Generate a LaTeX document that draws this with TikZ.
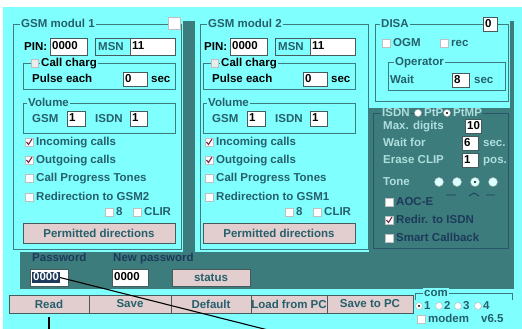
\documentclass[tikz,border=0pt]{standalone}
\usepackage{fontspec}
\setmainfont{Liberation Sans}
\usetikzlibrary{positioning,calc}
\definecolor{wcyan}{RGB}{128,255,255}
\definecolor{wdark}{RGB}{60,124,124}
\definecolor{wtext}{RGB}{38,96,108}
\definecolor{wlite}{RGB}{175,222,222}
\definecolor{wnavy}{RGB}{30,58,90}
\definecolor{btnface}{RGB}{226,206,206}
\definecolor{btnedge}{RGB}{70,92,92}
\definecolor{chkred}{RGB}{120,40,70}
\newcommand\uifont{\fontsize{11.5}{13}\selectfont\bfseries}
\tikzset{
  lbl/.style={anchor=west,inner sep=0pt,text height=8.5pt,text depth=2pt,font=\uifont,text=wtext},
  gtitle/.style={lbl,fill=wcyan,inner xsep=1pt},
  ititle/.style={lbl,fill=wdark,text=wlite,inner xsep=1pt},
  ilbl/.style={lbl,text=wlite},
  gframe/.style={draw=wdark,line width=0.9pt},
  iframe/.style={draw=wnavy!60!wdark,line width=0.9pt},
  edit/.style={draw=btnedge,fill=white,line width=0.7pt},
  etext/.style={lbl,text=black},
  btn/.style={draw=btnedge,fill=btnface,line width=0.9pt,inner sep=0pt,
    minimum height=18pt,font=\uifont,text=wtext},
  cbox/.style={draw=black!25,fill=white,line width=0.5pt},
  chk/.style={draw=chkred,line width=1.1pt},
  radio/.style={circle,draw=black!30,fill=white,minimum size=7pt,inner sep=0pt},
  callout/.style={draw=black,line width=1.1pt},
}
% edit field: name, x1, y1, x2, y2, text
\newcommand\ebox[6]{%
  \draw[edit] (#2,#3) rectangle (#4,#5);
  \node[etext] (#1) at ({#2+2},{(#3+#5)/2}) {#6};}
% check box: [label style] name, x, y, label
\newcommand\cbx[5][]{%
  \draw[cbox] (#3,{#4-4}) rectangle ({#3+8},{#4+4});
  \node[lbl,#1] (#2) at ({#3+11},#4) {#5};}
\newcommand\ckmark[2]{\draw[chk] ({#1+1.5},#2) -- ({#1+3.5},{#2+2.5}) -- ({#1+7},{#2-3});}
% one GSM module: x offset, number, redirection target, frame left, frame right
\newcommand\gsmmod[5]{%
  \begin{scope}[xshift=#1pt]
    \draw[gframe] (#4,24) rectangle (#5,249);
    \node[gtitle] (title#2) at ({#4+7},24) {GSM modul #2};
    \node[lbl,text=black] (pinl#2) at (24,47) {PIN:};
    \ebox{pin#2}{50}{38}{87}{55}{0000}
    \draw[edit,fill=wcyan] (95,38) rectangle (130,55);
    \node[lbl] (msnl#2) at (98,47) {MSN};
    \ebox{msn#2}{130}{38}{175}{55}{11}
    % call charge
    \draw[gframe] (23,63) rectangle (175,89);
    \draw[cbox,fill=black!8] (31,59) rectangle (38,67);
    \node[gtitle,text=black] (chg#2) at (40,63) {Call charg};
    \node[lbl,text=black] (pulse#2) at (32,79) {Pulse each};
    \ebox{pulsen#2}{123}{72}{147}{86}{0}
    \node[lbl,text=black] (pulses#2) at (151,79) {sec};
    % volume
    \draw[gframe] (23,103) rectangle (175,133);
    \node[gtitle] (vol#2) at (27,103) {Volume};
    \node[lbl] (volg#2) at (32,119) {GSM};
    \ebox{volgn#2}{67}{111}{85}{126}{1}
    \node[lbl] (voli#2) at (95,119) {ISDN};
    \ebox{volin#2}{130}{111}{147}{126}{1}
    % options
    \cbx{inc#2}{25}{142}{Incoming calls}\ckmark{25}{142}
    \cbx{out#2}{25}{160}{Outgoing calls}\ckmark{25}{160}
    \cbx{cpt#2}{25}{178}{Call Progress Tones}
    \cbx{redir#2}{25}{197}{Redirection to GSM#3}
    \cbx{b#2}{105}{212}{8}
    \cbx{clir#2}{133}{212}{CLIR}
    \node[btn,minimum width=152pt,minimum height=20pt] (perm#2) at (99,233) {Permitted directions};
  \end{scope}}

\begin{document}
\begin{tikzpicture}[x=1pt,y=-1pt]
  \useasboundingbox (0,0) rectangle (522,329);
  % window and panels
  \fill[white] (0,0) rectangle (522,329);
  \fill[wcyan] (3,7) rectangle (522,329);
  \fill[wdark] (20,21) rectangle (514,289);
  \fill[wcyan] (3,7) rectangle (183,252);
  \fill[wcyan] (195,21) rectangle (369,252);
  \fill[wcyan] (369,21) rectangle (510,108);

  \gsmmod{0}{1}{2}{13}{181}
  \gsmmod{180}{2}{1}{20}{188}
  \draw[cbox] (168,17) rectangle (180,29);

  % DISA
  \draw[gframe] (375,24) rectangle (508,101);
  \node[gtitle] (disa) at (380,24) {DISA};
  \ebox{disan}{483}{17}{497}{31}{0}
  \cbx{ogm}{382}{43}{OGM}
  \cbx{rec}{440}{43}{rec}
  \draw[gframe] (388,62) rectangle (505,90);
  \node[gtitle] (oper) at (394,62) {Operator};
  \node[lbl] (wait) at (390,80) {Wait};
  \ebox{waitn}{452}{73}{469}{87}{8}
  \node[lbl] (waits) at (474,80) {sec};

  % ISDN
  \draw[iframe] (373,113) rectangle (508,248);
  \node[ititle] (isdn) at (381,113) {ISDN};
  \node[radio] (ptp) at (418,113) {};
  \node[ititle] (ptpl) at (423,113) {PtP};
  \node[radio] (ptmp) at (447,113) {};
  \fill (ptmp) circle (1.2pt);
  \node[ititle] (ptmpl) at (452,113) {PtMP};
  \node[ilbl] (maxd) at (383,126) {Max. digits};
  \ebox{maxdn}{465}{119}{481}{133}{10}
  \node[ilbl] (waitf) at (383,143) {Wait for};
  \ebox{waitfn}{462}{136}{478}{150}{6}
  \node[ilbl] (waitfs) at (483,143) {sec.};
  \node[ilbl] (erase) at (383,160) {Erase CLIP};
  \ebox{erasen}{462}{153}{478}{167}{1}
  \node[ilbl] (erases) at (483,160) {pos.};
  \node[ilbl] (tone) at (383,182) {Tone};
  \foreach \i/\x in {1/439,2/457,3/475,4/493}
    \node[radio,minimum size=9pt,fill=wcyan!30!white] (tone\i) at (\x,182) {};
  \fill (tone3) circle (1.2pt);
  \draw[wnavy,line width=0.8pt] (446,195) -- (456,195)
    (469,196) -- (474,193) -- (479,196)
    (486,195) -- (495,195);
  \cbx[text=wnavy]{aoce}{385}{202}{AOC-E}
  \cbx[text=wnavy]{isdnredir}{385}{220}{Redir. to ISDN}\ckmark{385}{220}
  \cbx[text=wnavy]{smart}{385}{238}{Smart Callback}

  % passwords
  \node[lbl,text=wnavy] (pwl) at (32,258) {Password};
  \node[lbl,text=wnavy] (npwl) at (113,258) {New password};
  \draw[edit] (30,269) rectangle (68,286);
  \node[lbl,fill=wnavy,text=white,inner xsep=1pt] (pw) at (32,277.5) {0000};
  \ebox{npw}{112}{269}{148}{286}{0000}
  \node[btn,minimum width=78pt,minimum height=17pt] (status) at (211,277.5) {status};

  % bottom buttons
  \node[btn,minimum width=80pt] (read) at (49,304) {Read};
  \node[btn,minimum width=82pt] (save) at (130,304) {Save};
  \node[btn,minimum width=80pt] (default) at (211,304) {Default};
  \node[btn,minimum width=76pt] (loadpc) at (289,304) {Load from PC};
  \node[btn,minimum width=86pt] (savepc) at (370,304) {Save to PC};

  % com port
  \draw[gframe] (415,300) -- (415,293) -- (512,293) -- (512,300);
  \node[gtitle] (com) at (423,293) {com};
  \foreach \i/\x in {1/419,2/439,3/458,4/478}{
    \node[radio] (com\i) at (\x,306) {};
    \node[lbl] (coml\i) at (\x+5,306) {\i};
  }
  \fill (com1) circle (1.2pt);
  \cbx{modem}{417}{319}{modem}
  \node[lbl] (ver) at (481,319) {v6.5};

  % call-out lines
  \coordinate (rdend) at (49,331);
  \coordinate (pwend) at (272,331);
  \draw[callout] ([yshift=-4pt]read.south) -- (rdend);
  \draw[callout] (pw.east) -- (pwend);
\end{tikzpicture}
\end{document}
